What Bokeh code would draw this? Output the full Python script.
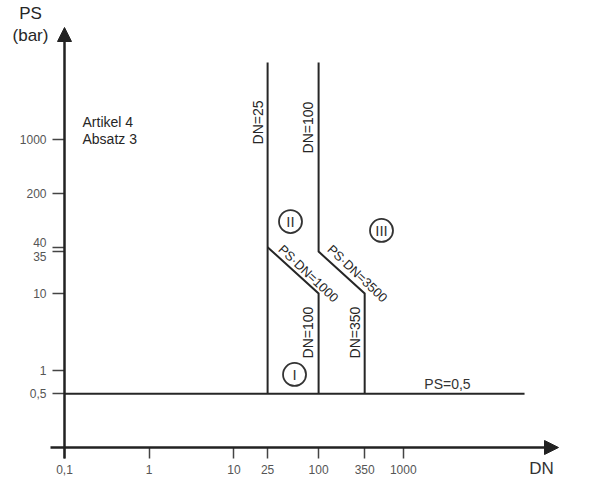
import math
from bokeh.plotting import figure
from bokeh.models import FixedTicker, Arrow, NormalHead, Label, Range1d
from bokeh.embed import file_html
from bokeh.resources import INLINE
from bokeh.core.properties import value

# ---------------- data ----------------
x_ticks = [0.1, 1, 10, 25, 100, 350, 1000]
x_tick_labels = ["0,1", "1", "10", "25", "100", "350", "1000"]
y_ticks = [0.5, 1, 10, 35, 40, 200, 1000]
y_tick_labels = ["0,5", "1", "10", "", "", "200", "1000"]

ps_line_x = [0.1, 27000]
ps_line_y = [0.5, 0.5]
dn25_x = [25, 25]
dn25_y = [0.5, 10000]
cat1_x = [25, 100, 100]          # PS*DN=1000, then DN=100
cat1_y = [40, 10, 0.5]
cat2_x = [100, 100, 350, 350]    # DN=100, PS*DN=3500, DN=350
cat2_y = [10000, 35, 10, 0.5]
region_labels = ["I", "II", "III"]
region_x = [52, 46.6, 553]
region_y = [0.89, 86, 66]

# ---------------- layout ----------------
W, H = 605, 484
PXD, PYD = 84.7, 77.0
X0P, Y0P = 64, 447  # canvas position of (0.1, 0.1)

def X(px):
    return 10 ** ((px - X0P) / PXD - 1)

def Y(py):
    return 10 ** ((Y0P - py) / PYD - 1)

FONT = "Liberation Sans"
INK = "#262626"

p = figure(width=W, height=H, x_axis_type="log", y_axis_type="log",
           x_range=Range1d(X(0), X(W)), y_range=Range1d(Y(H), Y(0)),
           output_backend="svg", toolbar_location=None,
           min_border=0)
p.outline_line_color = None
p.xgrid.visible = False
p.ygrid.visible = False

for ax, ticks, labs, tout in ((p.xaxis[0], x_ticks, x_tick_labels, 11),
                              (p.yaxis[0], y_ticks, y_tick_labels, 12)):
    ax.fixed_location = 0.1
    ax.ticker = FixedTicker(ticks=ticks, minor_ticks=[])
    ax.major_label_overrides = {t: l for t, l in zip(ticks, labs)}
    ax.axis_line_color = None
    ax.minor_tick_line_color = None
    ax.major_tick_in = 0
    ax.major_tick_out = tout
    ax.major_tick_line_color = "#444"
    ax.major_tick_line_width = 1.5
    ax.major_label_text_font = FONT
    ax.major_label_text_font_size = "12px"
    ax.major_label_text_color = "#555"
    ax.major_label_standoff = 6

# axes with arrows
p.add_layout(Arrow(x_start=X(50), y_start=0.1, x_end=X(558), y_end=0.1,
                   line_width=2.5, line_color="#222",
                   end=NormalHead(size=14, fill_color="#222", line_color="#222")))
p.add_layout(Arrow(x_start=0.1, y_start=Y(458), x_end=0.1, y_end=Y(27),
                   line_width=2.5, line_color="#222",
                   end=NormalHead(size=14, fill_color="#222", line_color="#222")))

# boundary lines
for xs, ys in ((ps_line_x, ps_line_y), (dn25_x, dn25_y), (cat1_x, cat1_y), (cat2_x, cat2_y)):
    p.line(xs, ys, line_width=2, line_color=INK, line_join="miter")

# region markers
p.scatter(region_x, region_y, marker="circle", size=23, fill_color="white",
          line_color="#333", line_width=1.8)
p.text(region_x, region_y, text=region_labels, text_align="center", text_baseline="middle",
       text_font=value(FONT), text_font_size="15px", text_color="#333")

def lab(text, px, py, size="14px", angle=0.0, align="center", color=INK):
    p.add_layout(Label(x=X(px), y=Y(py), text=text, angle=angle, text_align=align,
                       text_baseline="middle", text_font=FONT, text_font_size=size,
                       text_color=color))

lab("PS", 30, 13, "17px")
lab("(bar)", 30, 35, "17px")
lab("DN", 541, 468, "17px", color="#333")
lab("Artikel 4", 82, 121, "14px", align="left")
lab("Absatz 3", 82, 138, "14px", align="left")
lab("40", 46, 242, "12px", align="right", color="#555")
lab("35", 46, 256, "12px", align="right", color="#555")
lab("PS=0,5", 447, 383, "14px", color="#333")
lab("DN=25", 257, 122, "14px", angle=math.pi / 2)
lab("DN=100", 307, 127, "14px", angle=math.pi / 2)
lab("DN=100", 307, 332, "14px", angle=math.pi / 2)
lab("DN=350", 354, 332, "14px", angle=math.pi / 2)
lab("PS\u00b7DN=1000", 308, 273, "13px", angle=-0.755)
lab("PS\u00b7DN=3500", 357, 273, "13px", angle=-0.755)

open("out.html", "w").write(file_html(p, INLINE))
